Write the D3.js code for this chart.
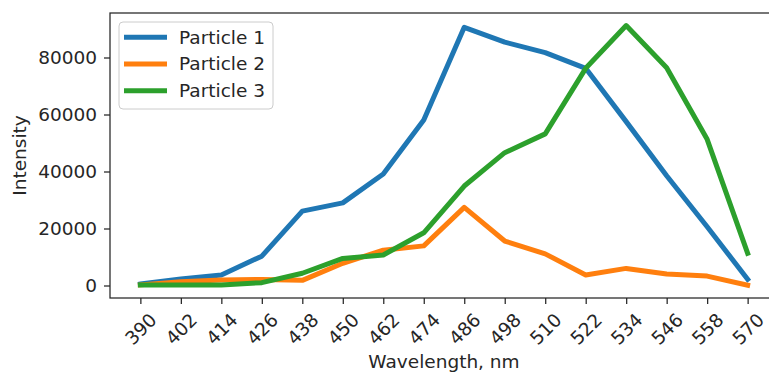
<!DOCTYPE html>
<html>
<head>
<meta charset="utf-8">
<script src="https://cdn.jsdelivr.net/npm/d3@7"></script>
<style>
  body { margin: 0; background: #fff; }
  svg { display: block; font-family: "DejaVu Sans", sans-serif; }
</style>
</head>
<body>
<svg id="chart" width="769" height="374"></svg>
<script>
// data
var wavelengths = [390, 402, 414, 426, 438, 450, 462, 474, 486, 498, 510, 522, 534, 546, 558, 570];
var particle1 = [500, 2300, 3700, 10300, 26100, 29000, 39100, 58100, 90600, 85400, 81700, 76200, 57500, 38500, 20600, 2200];
var particle2 = [200, 1300, 1900, 2100, 1800, 7800, 12400, 13900, 27400, 15600, 11100, 3700, 6000, 4000, 3300, 100];
var particle3 = [200, 200, 200, 1000, 4300, 9500, 10700, 18500, 34900, 46600, 53200, 76200, 91200, 76400, 51300, 11300];
var seriesNames = ["Particle 1", "Particle 2", "Particle 3"];
var seriesColors = ["#1f77b4", "#ff7f0e", "#2ca02c"];
var yTicks = [0, 20000, 40000, 60000, 80000];

var svg = d3.select("#chart");
var ink = "#262626";
var fontSize = 18.5;

var plotLeft = 110, plotTop = 13, plotRight = 778, plotBottom = 298;

var x = d3.scaleLinear().domain([381, 579]).range([plotLeft, plotRight]);
var y = d3.scaleLinear().domain([-4386, 95614]).range([plotBottom, plotTop]);

var allSeries = [particle1, particle2, particle3];

// lines
var line = d3.line()
  .x(function(d, i) { return x(wavelengths[i]); })
  .y(function(d) { return y(d); });

svg.append("g").selectAll("path").data(allSeries).enter()
  .append("path")
  .attr("d", line)
  .attr("fill", "none")
  .attr("stroke", function(d, i) { return seriesColors[i]; })
  .attr("stroke-width", 5)
  .attr("stroke-linejoin", "round")
  .attr("stroke-linecap", "square");

// axes
var yaxis = d3.axisLeft(y).tickValues(yTicks).tickFormat(d3.format("d")).tickSize(6).tickPadding(7);
var gy = svg.append("g").attr("transform", "translate(" + plotLeft + ",0)").call(yaxis);

var xaxis = d3.axisBottom(x).tickValues(wavelengths).tickFormat(d3.format("d")).tickSize(6);
var gx = svg.append("g").attr("transform", "translate(0," + plotBottom + ")").call(xaxis);

[gx, gy].forEach(function(g) {
  g.select(".domain").remove();
  g.selectAll(".tick line").attr("stroke", ink).attr("stroke-width", 1.25);
  g.selectAll(".tick text").attr("fill", ink).style("font-size", fontSize + "px").style("font-family", "DejaVu Sans");
});

gx.selectAll(".tick text")
  .attr("y", 0)
  .attr("dy", "0.35em")
  .attr("text-anchor", "middle")
  .attr("transform", "translate(0,31) rotate(-45)");

// spines
svg.append("rect")
  .attr("x", plotLeft).attr("y", plotTop)
  .attr("width", plotRight - plotLeft).attr("height", plotBottom - plotTop)
  .attr("fill", "none")
  .attr("stroke", ink)
  .attr("stroke-width", 1.25);

// axis labels
svg.append("text")
  .attr("x", (plotLeft + plotRight) / 2)
  .attr("y", 368)
  .attr("text-anchor", "middle")
  .attr("fill", ink)
  .style("font-size", fontSize + "px")
  .text("Wavelength, nm");

svg.append("text")
  .attr("transform", "translate(26," + (plotTop + plotBottom) / 2 + ") rotate(-90)")
  .attr("text-anchor", "middle")
  .attr("fill", ink)
  .style("font-size", fontSize + "px")
  .text("Intensity");

// legend
var legend = svg.append("g");
legend.append("rect")
  .attr("x", 119).attr("y", 22)
  .attr("width", 154).attr("height", 87)
  .attr("rx", 4)
  .attr("fill", "#fff").attr("fill-opacity", 0.8)
  .attr("stroke", "#cccccc").attr("stroke-width", 1);

var items = legend.selectAll(".item").data(seriesNames).enter()
  .append("g")
  .attr("class", "item")
  .attr("transform", function(d, i) { return "translate(0," + (37.3 + i * 26.7) + ")"; });

items.append("line")
  .attr("x1", 124).attr("x2", 167)
  .attr("y1", 0).attr("y2", 0)
  .attr("stroke", function(d, i) { return seriesColors[i]; })
  .attr("stroke-width", 5);

items.append("text")
  .attr("x", 179)
  .attr("dy", "0.35em")
  .attr("fill", ink)
  .style("font-size", fontSize + "px")
  .text(function(d) { return d; });
</script>
</body>
</html>
